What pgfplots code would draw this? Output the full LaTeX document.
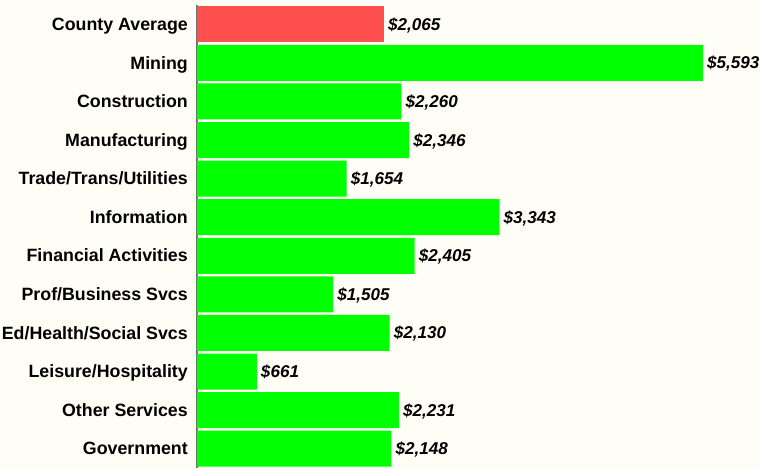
\documentclass[border=0pt]{standalone}
\usepackage{pgfplots}
\pgfplotsset{compat=1.18}
\usepackage{fontspec}
\setmainfont{Liberation Sans}
\definecolor{cream}{RGB}{255,254,246}
\definecolor{barred}{RGB}{255,80,80}
\definecolor{bargreen}{RGB}{0,255,0}
\definecolor{axgray}{RGB}{112,112,112}
\begin{document}
\begin{tikzpicture}[x=1pt,y=1pt]
\fill[cream] (0,0) rectangle (761,469);
\path[use as bounding box] (0,0) rectangle (761,469);
\begin{axis}[
  at={(197pt,1pt)}, anchor=south west,
  scale only axis, width=542.8pt, height=463pt,
  xbar, bar shift=0pt, bar width=36pt,
  xmin=0, xmax=6000,
  ymin=-0.5, ymax=11.5, y dir=reverse,
  hide x axis,
  axis y line*=left,
  y axis line style={-, draw=axgray, line width=2pt},
  ytick={0,...,11},
  yticklabels={County Average, Mining, Construction, Manufacturing, Trade/Trans/Utilities, Information, Financial Activities, Prof/Business Svcs, Ed/Health/Social Svcs, Leisure/Hospitality, Other Services, Government},
  major tick length=0pt,
  y tick label style={font=\fontsize{17.8}{20}\selectfont\bfseries, anchor=base east, inner xsep=0pt, xshift=-9pt, yshift=-6.2pt},
  clip=false,
  nodes near coords={\$\pgfmathprintnumber{\pgfplotspointmeta}},
  every node near coord/.append style={font=\fontsize{17.1}{20}\selectfont\bfseries\itshape, anchor=base west, inner xsep=4pt, yshift=-6pt, /pgf/number format/.cd, 1000 sep={,}, assume math mode=true},
  point meta=explicit,
]
\addplot[fill=barred, draw=none] coordinates {(2065,0) [2065]};
\addplot[fill=bargreen, draw=none] coordinates {
 (5593,1) [5593]
 (2260,2) [2260]
 (2346,3) [2346]
 (1654,4) [1654]
 (3343,5) [3343]
 (2405,6) [2405]
 (1505,7) [1505]
 (2130,8) [2130]
 (661,9) [661]
 (2231,10) [2231]
 (2148,11) [2148]
};
\end{axis}
\end{tikzpicture}
\end{document}
